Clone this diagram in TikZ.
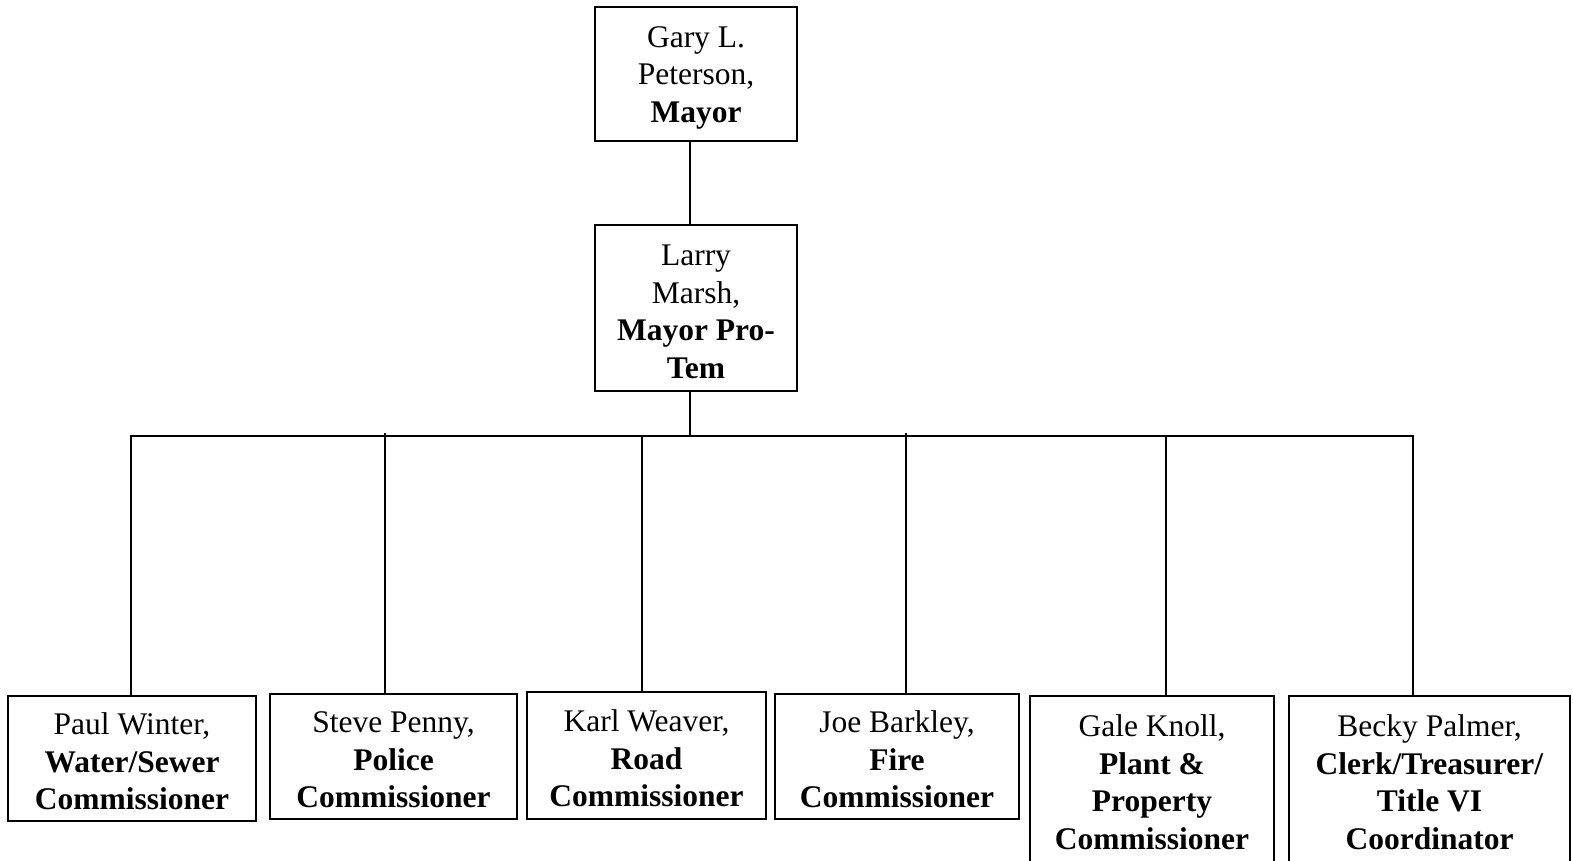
\documentclass[tikz,border=0pt]{standalone}
\usepackage{fontspec}
\setmainfont{Liberation Serif}
\newcommand\tstrut{\rule{0pt}{28pt}}
\begin{document}
\begin{tikzpicture}[x=1pt,y=-1pt,
  box/.style={draw, line width=1.6pt, align=center, inner sep=0pt,
    font=\fontsize{31.5}{37.5}\selectfont},
  link/.style={line width=1.6pt}]
\useasboundingbox (0,0) rectangle (1573,861);
\node[box, minimum width=202, minimum height=134] (mayor) at (696,74)
  {\tstrut Gary L.\\Peterson,\\\textbf{Mayor}};
\node[box, minimum width=202, minimum height=166] (protem) at (696,308)
  {\tstrut Larry\\Marsh,\\\textbf{Mayor Pro-}\\\textbf{Tem}};
\node[box, minimum width=248, minimum height=125] (paul) at (132,758.5)
  {\tstrut Paul Winter,\\\textbf{Water/Sewer}\\\textbf{Commissioner}};
\node[box, minimum width=247, minimum height=125] (steve) at (393.5,756.5)
  {\tstrut Steve Penny,\\\textbf{Police}\\\textbf{Commissioner}};
\node[box, minimum width=239, minimum height=127] (karl) at (646.5,755.5)
  {\tstrut Karl Weaver,\\\textbf{Road}\\\textbf{Commissioner}};
\node[box, minimum width=244, minimum height=125] (joe) at (897,756.5)
  {\tstrut Joe Barkley,\\\textbf{Fire}\\\textbf{Commissioner}};
\node[box, minimum width=244, minimum height=172] (gale) at (1152,782)
  {Gale Knoll,\\\textbf{Plant \&}\\\textbf{Property}\\\textbf{Commissioner}};
\node[box, minimum width=281, minimum height=172] (becky) at (1429.5,782)
  {Becky Palmer,\\\textbf{Clerk/Treasurer/}\\\textbf{Title VI}\\\textbf{Coordinator}};
% connector coordinates
\coordinate (spine) at (690,436);
\coordinate (dP) at (131,436);
\coordinate (dS) at (385,433);
\coordinate (dK) at (642,436);
\coordinate (dJ) at (906,433);
\coordinate (dG) at (1166,436);
\coordinate (dB) at (1413,436);
\draw[link] (mayor.south -| spine) -- (protem.north -| spine);
\draw[link] (protem.south -| spine) -- (spine);
\draw[link] (dP |- paul.north) -- (dP) -- (dB) -- (dB |- becky.north);
\draw[link] (dS) -- (dS |- steve.north);
\draw[link] (dK) -- (dK |- karl.north);
\draw[link] (dJ) -- (dJ |- joe.north);
\draw[link] (dG) -- (dG |- gale.north);
\end{tikzpicture}
\end{document}
